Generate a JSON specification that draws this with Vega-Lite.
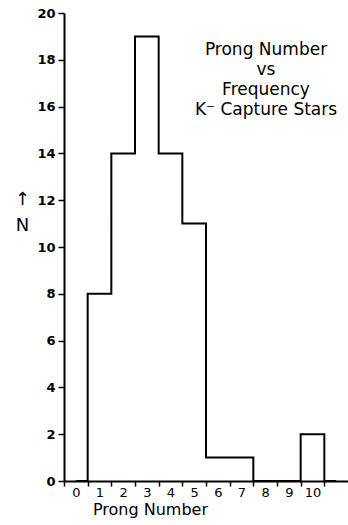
{
  "$schema": "https://vega.github.io/schema/vega-lite/v6.json",
  "autosize": {"type": "none"},
  "padding": {"left": 64, "top": 13, "right": 0, "bottom": 44},
  "width": 284,
  "height": 468,
  "background": "white",
  "title": {
    "text": ["Prong Number", "vs", "Frequency", "K\u207b Capture Stars"],
    "anchor": "middle",
    "frame": "group",
    "offset": 0,
    "dx": 60,
    "dy": 125,
    "baseline": "alphabetic",
    "fontSize": 17,
    "fontWeight": "normal",
    "font": "DejaVu Sans",
    "lineHeight": 20,
    "color": "black"
  },
  "config": {
    "view": {"stroke": null},
    "font": "DejaVu Sans",
    "axis": {
      "domainColor": "black",
      "domainWidth": 2,
      "tickColor": "black",
      "tickWidth": 1.5,
      "labelColor": "black",
      "titleColor": "black",
      "grid": false,
      "labelFont": "DejaVu Sans",
      "titleFont": "DejaVu Sans",
      "titleFontWeight": "normal"
    }
  },
  "data": {
    "values": [
      {"prong": 0, "N": 0},
      {"prong": 1, "N": 8},
      {"prong": 2, "N": 14},
      {"prong": 3, "N": 19},
      {"prong": 4, "N": 14},
      {"prong": 5, "N": 11},
      {"prong": 6, "N": 1},
      {"prong": 7, "N": 1},
      {"prong": 8, "N": 0},
      {"prong": 9, "N": 0},
      {"prong": 10, "N": 2},
      {"prong": 11, "N": 0}
    ]
  },
  "mark": {"type": "line", "interpolate": "step", "color": "black", "strokeWidth": 2},
  "encoding": {
    "x": {
      "field": "prong",
      "type": "quantitative",
      "scale": {"domain": [-0.5, 11.5], "nice": false},
      "axis": {
        "values": [-0.5, 0, 0.5, 1, 1.5, 2, 2.5, 3, 3.5, 4, 4.5, 5, 5.5, 6, 6.5, 7, 7.5, 8, 8.5, 9, 9.5, 10, 10.5],
        "labelExpr": "datum.value % 1 == 0 ? format(datum.value, 'd') : ''",
        "tickOpacity": {"condition": {"test": "datum.value % 1 == 0", "value": 0}, "value": 1},
        "tickSize": 5,
        "labelPadding": 0,
        "labelFontSize": 13,
        "labelOverlap": false,
        "title": "Prong Number",
        "titleFontSize": 16,
        "titleAnchor": "start",
        "titleAlign": "center",
        "titleX": 86,
        "titleY": 28,
        "titleBaseline": "middle"
      }
    },
    "y": {
      "field": "N",
      "type": "quantitative",
      "scale": {"domain": [0, 20], "nice": false},
      "axis": {
        "values": [0, 2, 4, 6, 8, 10, 12, 14, 16, 18, 20],
        "tickSize": 6,
        "labelPadding": 3,
        "labelFontSize": 13,
        "labelFontWeight": "bold",
        "labelFlush": false,
        "title": ["↑", "N"],
        "titleAngle": 0,
        "titleFontSize": 18,
        "titleLineHeight": 26,
        "titleAlign": "center",
        "titleBaseline": "middle",
        "titleX": -42,
        "titleY": 186
      }
    }
  }
}
